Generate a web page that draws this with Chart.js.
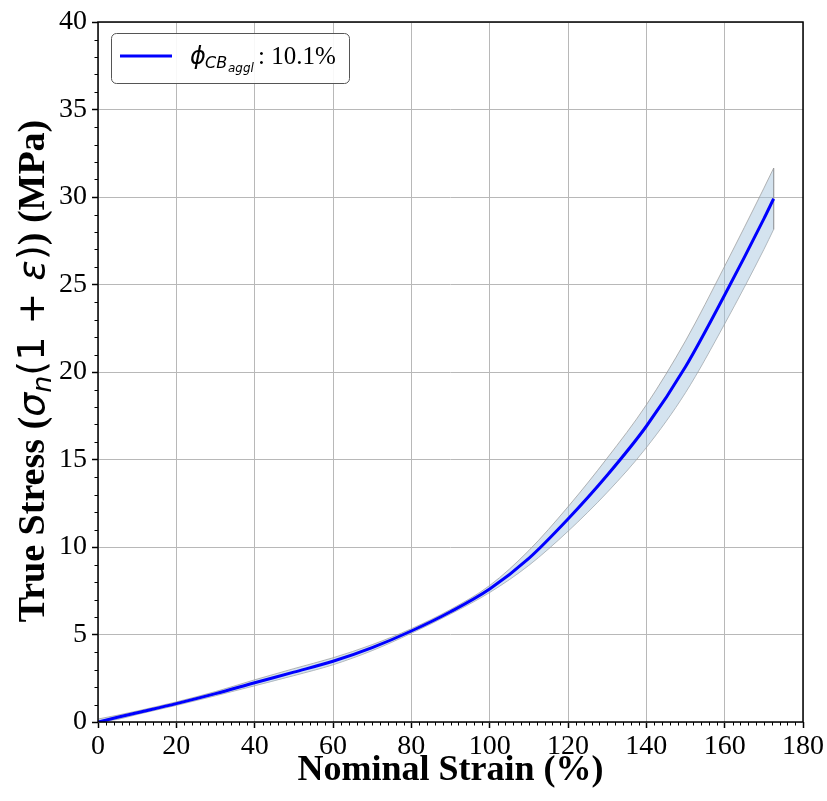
<!DOCTYPE html>
<html>
<head>
<meta charset="utf-8">
<title>True Stress vs Nominal Strain</title>
<script src="https://cdn.jsdelivr.net/npm/chart.js@4.4.0/dist/chart.umd.min.js"></script>
<style>
    html, body { margin: 0; padding: 0; background: #ffffff; }
    #wrap { width: 827px; height: 801px; position: relative; }
</style>
</head>
<body>
<div id="wrap"><canvas id="stressChart" width="827" height="801"></canvas></div>
<script>
/* ========================================
   DADOS
======================================== */

// Deformação nominal (%)
const strain = [0, 5, 10, 20, 30, 40, 50, 60, 70, 80, 90, 100, 110, 120, 130, 140, 150, 160, 170, 172.5];
// Tensão verdadeira média (MPa)
const stressMean = [0, 0.27, 0.53, 1.05, 1.62, 2.24, 2.85, 3.47, 4.25, 5.2, 6.3, 7.6, 9.35, 11.6, 14.1, 16.9, 20.3, 24.4, 28.75, 29.9];
// Limites da faixa (desvio)
const stressUpper = [0.17, 0.39, 0.63, 1.15, 1.74, 2.41, 3.05, 3.67, 4.42, 5.33, 6.43, 7.8, 9.8, 12.3, 15.08, 18.12, 21.78, 26.05, 30.5, 31.65];
const stressLower = [0, 0.15, 0.43, 0.95, 1.5, 2.07, 2.65, 3.27, 4.08, 5.07, 6.17, 7.4, 8.95, 10.9, 13.12, 15.68, 18.82, 22.75, 27.0, 28.15];

// Eixos
const xTicks = [0, 20, 40, 60, 80, 100, 120, 140, 160, 180];
const yTicks = [0, 5, 10, 15, 20, 25, 30, 35, 40];
const legendValue = ': 10.1%';

const SERIF = '"Liberation Serif", "Times New Roman", serif';
const MATH = '"DejaVu Sans", sans-serif';

function toPoints(ys) {
    return strain.map((x, i) => ({ x: x, y: ys[i] }));
}

// borda vertical da faixa (início e fim)
function edgePoints(i) {
    return [{ x: strain[i], y: stressUpper[i] }, { x: strain[i], y: stressLower[i] }];
}

// ========================================
// PLUGINS
// ========================================

// moldura + ticks menores
const framePlugin = {
    id: 'frame',
    afterDraw(chart) {
        const ctx = chart.ctx;
        const a = chart.chartArea;
        const xs = chart.scales.x;
        const ys = chart.scales.y;
        ctx.save();
        ctx.strokeStyle = '#000';
        ctx.lineWidth = 1;
        for (let v = 0; v <= 180; v += 2) {
            if (v % 20 === 0) continue;
            const px = Math.round(xs.getPixelForValue(v)) + 0.5;
            ctx.beginPath();
            ctx.moveTo(px, a.bottom);
            ctx.lineTo(px, a.bottom + 3.5);
            ctx.stroke();
        }
        for (let v = 0; v <= 40; v += 1) {
            if (v % 5 === 0) continue;
            const py = Math.round(ys.getPixelForValue(v)) + 0.5;
            ctx.beginPath();
            ctx.moveTo(a.left - 3.5, py);
            ctx.lineTo(a.left, py);
            ctx.stroke();
        }
        ctx.lineWidth = 1.5;
        ctx.strokeRect(a.left, a.top, a.right - a.left, a.bottom - a.top);
        ctx.restore();
    }
};

// título do eixo y com partes em modo matemático
const yTitlePlugin = {
    id: 'yTitle',
    afterDraw(chart) {
        const ctx = chart.ctx;
        const size = 38;
        const parts = [
            { t: 'True Stress (', f: 'bold ' + size + 'px ' + SERIF, dy: 0 },
            { t: '\u03c3', f: 'italic ' + size + 'px ' + MATH, dy: 0 },
            { t: 'n', f: 'italic ' + Math.round(size * 0.7) + 'px ' + MATH, dy: 7 },
            { t: '(1 + ', f: size + 'px ' + MATH, dy: 0 },
            { t: '\u03b5', f: 'italic ' + size + 'px ' + MATH, dy: 0 },
            { t: ')', f: size + 'px ' + MATH, dy: 0 },
            { t: ') (MPa)', f: 'bold ' + size + 'px ' + SERIF, dy: 0 }
        ];
        ctx.save();
        let total = 0;
        parts.forEach(p => {
            ctx.font = p.f;
            p.w = ctx.measureText(p.t).width;
            total += p.w;
        });
        ctx.translate(44, 371);
        ctx.rotate(-Math.PI / 2);
        ctx.fillStyle = '#000';
        ctx.textAlign = 'left';
        ctx.textBaseline = 'alphabetic';
        let x = -total / 2;
        parts.forEach(p => {
            ctx.font = p.f;
            ctx.fillText(p.t, x, p.dy);
            x += p.w;
        });
        ctx.restore();
    }
};

// legenda com subscritos
const legendPlugin = {
    id: 'mathLegend',
    afterDraw(chart) {
        const ctx = chart.ctx;
        const bx = 111, by = 33, bw = 238, bh = 50;
        ctx.save();
        ctx.beginPath();
        ctx.roundRect(bx + 0.5, by + 0.5, bw, bh, 5);
        ctx.fillStyle = 'rgba(255,255,255,0.9)';
        ctx.fill();
        ctx.strokeStyle = '#555';
        ctx.lineWidth = 1;
        ctx.stroke();

        ctx.strokeStyle = '#0000ff';
        ctx.lineWidth = 3;
        ctx.beginPath();
        ctx.moveTo(120, 56);
        ctx.lineTo(172, 56);
        ctx.stroke();

        const base = 64;
        ctx.fillStyle = '#000';
        ctx.textBaseline = 'alphabetic';
        ctx.textAlign = 'left';
        ctx.font = 'italic 24px ' + MATH;
        ctx.fillText('\u03d5', 190, base);
        ctx.font = 'italic 16px ' + MATH;
        ctx.fillText('CB', 205, base + 4);
        ctx.font = 'italic 12px ' + MATH;
        ctx.fillText('aggl', 228, base + 8);
        ctx.font = '25px ' + SERIF;
        ctx.fillText(legendValue, 258, base);
        ctx.restore();
    }
};

// ========================================
// GRÁFICO
// ========================================

const ctx = document.getElementById('stressChart');
const bandEdge = {
    borderColor: 'rgba(150,150,150,0.7)',
    borderWidth: 1,
    pointRadius: 0,
    fill: false
};

new Chart(ctx, {
    type: 'line',
    data: {
        datasets: [
            {
                label: 'mean',
                data: toPoints(stressMean),
                borderColor: '#0000ff',
                borderWidth: 3,
                pointRadius: 0,
                fill: false,
                cubicInterpolationMode: 'monotone',
                order: 0
            },
            {
                label: 'upper',
                data: toPoints(stressUpper),
                borderColor: 'rgba(150,150,150,0.7)',
                borderWidth: 1,
                pointRadius: 0,
                backgroundColor: 'rgba(160,192,220,0.45)',
                fill: '+1',
                cubicInterpolationMode: 'monotone',
                order: 1
            },
            {
                label: 'lower',
                data: toPoints(stressLower),
                borderColor: 'rgba(150,150,150,0.7)',
                borderWidth: 1,
                pointRadius: 0,
                fill: false,
                cubicInterpolationMode: 'monotone',
                order: 2
            },
            Object.assign({ label: 'edgeEnd', data: edgePoints(strain.length - 1), order: 3 }, bandEdge),
            Object.assign({ label: 'edgeStart', data: edgePoints(0), order: 4 }, bandEdge)
        ]
    },
    options: {
        responsive: false,
        animation: false,
        layout: { padding: { left: 0, top: 22, right: 24, bottom: 0 } },
        plugins: {
            legend: { display: false },
            tooltip: { enabled: false }
        },
        scales: {
            x: {
                type: 'linear',
                min: 0,
                max: 180,
                afterBuildTicks: s => { s.ticks = xTicks.map(v => ({ value: v })); },
                afterFit: s => { s.height = 79; },
                grid: { color: '#b8b8b8', lineWidth: 1, tickColor: '#000', tickLength: 6, tickWidth: 1.5 },
                border: { display: false },
                ticks: { color: '#000', font: { family: SERIF, size: 28 }, padding: 2, maxRotation: 0 },
                title: { display: true, text: 'Nominal Strain (%)', color: '#000', font: { family: SERIF, size: 36, weight: 'bold' }, padding: { top: 0, bottom: 9 } }
            },
            y: {
                type: 'linear',
                min: 0,
                max: 40,
                afterBuildTicks: s => { s.ticks = yTicks.map(v => ({ value: v })); },
                afterFit: s => { s.width = 98; },
                grid: { color: '#b8b8b8', lineWidth: 1, tickColor: '#000', tickLength: 6, tickWidth: 1.5 },
                border: { display: false },
                ticks: { color: '#000', font: { family: SERIF, size: 28 }, padding: 5 },
                title: { display: false }
            }
        }
    },
    plugins: [framePlugin, yTitlePlugin, legendPlugin]
});
</script>
</body>
</html>
